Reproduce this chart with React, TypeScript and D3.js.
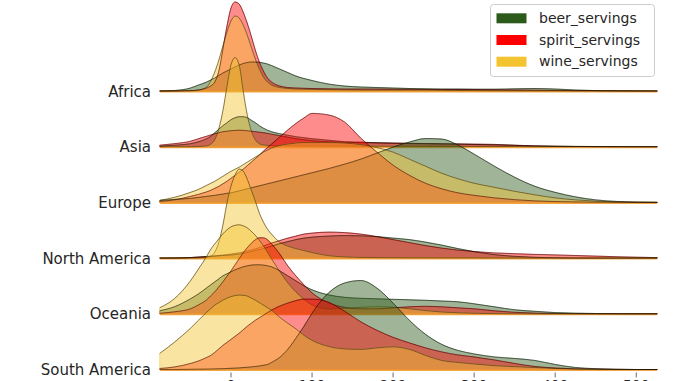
import React from "react";
import * as d3 from "d3";

const GRID = [-88, -70, -50, -40, -30, -25, -20, -15, -10, -5, 0, 5, 10, 15, 20, 25, 30, 35, 40, 45, 50, 60, 70, 80, 90, 100, 120, 140, 160, 180, 200, 220, 240, 260, 280, 300, 325, 350, 375, 400, 425, 450, 475, 500, 526];

const CONTINENTS = ["Africa", "Asia", "Europe", "North America", "Oceania", "South America"];
const SERIES = ["beer_servings", "spirit_servings", "wine_servings"];
const COLORS = ["#2c5a1a", "#ff0000", "#f4c430"];
const TICKS = [0, 100, 200, 300, 400, 500];

// relative density estimates (each row is scaled to its own maximum)
const africaBeer = [0, 0.5, 3, 6, 9, 11, 13, 15.5, 18, 20, 22, 24, 26, 27.5, 28.5, 29, 29, 28.7, 28, 27, 25.5, 22, 18.5, 15, 12.5, 10.5, 7, 5, 4, 3.5, 3, 2.5, 2.2, 2, 2, 1.8, 1.8, 2.2, 2.5, 2, 1, 0.4, 0.2, 0.1, 0];
const africaSpirit = [0, 0, 0.3, 1, 3, 5, 9, 20, 42, 65, 83, 89, 87, 79, 68, 55, 41, 29, 20, 13, 9, 5, 3.5, 3, 2.7, 2.5, 2.2, 2, 2, 2, 1.8, 1.7, 1.6, 1.5, 1.5, 1.4, 1.2, 1, 0.8, 0.6, 0.4, 0.3, 0.2, 0.1, 0];
const africaWine = [0, 0, 0.3, 1, 4, 10, 19, 31, 45, 59, 70, 75, 73, 66, 56, 44, 32, 22, 14, 9, 6, 3.5, 2.5, 2, 1.8, 1.6, 1.4, 1.2, 1, 1, 1, 1, 0.9, 0.7, 0.5, 0.4, 0.3, 0.2, 0.2, 0.2, 0.1, 0.1, 0, 0, 0];

const asiaBeer = [0.5, 1.5, 3, 5, 8, 10.5, 14, 17.5, 21, 24, 27, 29, 30, 30, 29, 26.5, 24, 21, 18.5, 16.5, 15, 13, 11.5, 10, 9, 8, 6.5, 5, 4.5, 4, 3.5, 3.2, 3, 2.8, 2.5, 2.2, 1.8, 1.3, 0.8, 0.5, 0.3, 0.2, 0.1, 0, 0];
const asiaSpirit = [1.5, 3, 5.5, 8, 10.5, 11.8, 13, 14, 15, 15.5, 16, 16.3, 16.5, 16.3, 16, 15.5, 15, 14.5, 14, 13.3, 12.5, 11, 9.5, 8, 7, 6, 5, 4.3, 4, 3.8, 3.6, 3.4, 3.2, 3, 2.8, 2.6, 2.3, 1.5, 0.8, 0.4, 0.2, 0.1, 0, 0, 0];
const asiaWine = [0, 0, 0, 0.2, 0.8, 2.5, 7, 18, 36, 60, 82, 89, 82, 56, 32, 16, 7, 3, 1.8, 1.3, 1.2, 1, 1, 0.9, 0.8, 0.8, 0.7, 0.6, 0.5, 0.5, 0.4, 0.4, 0.3, 0.3, 0.3, 0.2, 0.2, 0.2, 0.1, 0.1, 0.1, 0, 0, 0, 0];

const europeBeer = [2, 3, 4, 5, 6, 6.5, 7, 7.7, 8.3, 9, 9.5, 10.5, 11.5, 12.5, 13.5, 14.5, 15.5, 16.5, 17.5, 18.5, 19.5, 21.5, 23.5, 25.5, 27.5, 29.5, 33.5, 38, 43, 49, 55, 60, 63.5, 63, 57, 48, 36, 25, 16, 10, 5.5, 2.5, 1, 0.3, 0];
const europeSpirit = [1, 2.5, 6, 8, 10.5, 12, 14, 16, 18.5, 21, 24, 27, 30, 33, 36.5, 40, 43.5, 47, 51, 54.5, 58, 65, 72, 78.5, 84, 88.5, 87, 80, 64, 50, 37, 27, 19, 13.5, 9.5, 7, 4.5, 2.7, 1.5, 0.8, 0.4, 0.2, 0.1, 0, 0];
const europeWine = [2, 5, 10, 13, 17, 19, 21, 23.5, 26, 28.5, 31, 33, 35, 37.5, 40, 42.5, 45, 47.5, 50, 52, 54, 56.5, 58, 59, 59.5, 59.5, 59.5, 59, 57.5, 54.5, 50, 43, 36, 29, 23.5, 19, 15, 11, 7.5, 4.5, 2.5, 1.2, 0.5, 0.2, 0];

const northAmericaBeer = [0, 0, 0.5, 1, 1.5, 1.8, 2, 2.3, 2.6, 2.8, 3, 3.5, 4, 4.7, 5.5, 6.5, 7.5, 8.5, 9.5, 10.7, 12, 14.5, 16.5, 18.5, 20, 21, 22, 22.5, 22.3, 21.5, 20, 18.5, 16, 13, 9.5, 6.5, 3.5, 1.8, 0.8, 0.3, 0.1, 0, 0, 0, 0];
const northAmericaSpirit = [0, 0.2, 0.6, 1, 1.5, 1.8, 2.2, 2.6, 3, 3.5, 4, 4.6, 5.2, 6, 7, 8, 9.2, 10.5, 12, 13.5, 15, 17.5, 20, 22, 24, 25, 26, 25.5, 24, 21.5, 18.5, 15.5, 12.5, 10, 8, 6.5, 5.2, 4.4, 3.7, 3.2, 2.6, 2, 1.4, 0.9, 0.5];
const northAmericaWine = [0, 0, 0, 0.2, 0.7, 2, 6, 16, 33, 55, 72, 83, 89, 87, 79, 68, 57, 45, 36, 29, 24, 16, 12, 9.5, 7.5, 5.5, 2.5, 1.2, 0.7, 0.5, 0.4, 0.3, 0.3, 0.2, 0.2, 0.2, 0.1, 0.1, 0, 0, 0, 0, 0, 0, 0];

const oceaniaBeer = [3, 7, 15, 20, 26, 29, 32, 35, 38, 40, 42, 44, 45.5, 47, 48, 48.7, 49, 49, 48.7, 48, 47, 43, 38, 33, 28, 24, 19, 16.5, 15.5, 15, 14.5, 14, 13.5, 12.8, 12, 10, 7, 4, 2.5, 1.2, 0.6, 0.3, 0.1, 0, 0];
const oceaniaSpirit = [0.5, 2, 5, 9, 14, 18, 22, 27, 32, 37.5, 43, 49, 55, 61, 66, 70.5, 74, 76, 76, 74, 70, 60, 48, 38, 29, 21, 11, 6.5, 5, 5, 6, 7, 7.5, 7, 6, 5, 3, 1.5, 0.7, 0.3, 0.1, 0, 0, 0, 0];
const oceaniaWine = [6, 15, 33, 45, 57.5, 64.5, 70, 75, 80, 84, 87, 88.5, 89, 88, 86, 82.5, 78.5, 73.5, 68, 61.5, 55, 42.5, 31, 22, 14.5, 9, 5, 5.5, 6.5, 7, 6.5, 5, 3.2, 1.8, 1, 0.5, 0.2, 0.1, 0, 0, 0, 0, 0, 0, 0];

const southAmericaBeer = [0, 0, 0.2, 0.3, 0.4, 0.5, 0.6, 0.7, 0.8, 1, 1.2, 1.4, 1.6, 1.9, 2.2, 2.6, 3, 3.5, 4.2, 5, 7, 12, 20, 31, 43, 56, 76, 86, 88.5, 81, 66, 49, 35, 25, 19, 15.5, 12.5, 11, 9, 5, 2, 0.8, 0.2, 0, 0];
const southAmericaSpirit = [1, 2.5, 6, 8.5, 12, 14, 17, 20.5, 24, 27, 30, 33, 36, 39.5, 43, 46, 49, 51.5, 54, 56.5, 59, 63, 66, 68.5, 70, 70, 67, 58, 47.5, 39, 32, 26.5, 21.5, 17.5, 14.5, 12.5, 9.5, 6, 3, 1.5, 0.6, 0.3, 0.1, 0, 0];
const southAmericaWine = [16, 27, 41, 49, 57, 60.5, 64, 66.5, 69, 71, 72.5, 73.5, 74, 73.8, 73, 71, 69, 66.5, 64, 61.5, 59, 52, 46, 40.5, 34, 29, 23, 20.5, 20, 21.5, 22.5, 20, 14, 9, 7, 5.5, 3.8, 2.8, 2, 1, 0.5, 0.2, 0.1, 0, 0];

const ROWS: number[][][] = [
  [africaBeer, africaSpirit, africaWine],
  [asiaBeer, asiaSpirit, asiaWine],
  [europeBeer, europeSpirit, europeWine],
  [northAmericaBeer, northAmericaSpirit, northAmericaWine],
  [oceaniaBeer, oceaniaSpirit, oceaniaWine],
  [southAmericaBeer, southAmericaSpirit, southAmericaWine],
];

const FONT = "'DejaVu Sans', sans-serif";

export default function App() {
  const W = 678;
  const H = 381;
  const x = d3.scaleLinear().domain([-87.6, 525.6]).range([160, 657]);
  const yBase = d3.scalePoint<string>().domain(CONTINENTS).range([91, 369.5]);
  const ROW_PEAK = 89;

  return (
    <svg
      width={W}
      height={H}
      style={{ position: "absolute", left: 0, top: 0, display: "block", background: "#fff" }}
      fontFamily={FONT}
    >
      {CONTINENTS.map((c, ri) => {
        const base = yBase(c) as number;
        const series = ROWS[ri];
        const max = d3.max(series.flat()) as number;
        const yh = d3.scaleLinear().domain([0, max]).range([0, ROW_PEAK]);
        const area = d3
          .area<number>()
          .x((_, i) => x(GRID[i]))
          .y0(base)
          .y1((d) => base - yh(d))
          .curve(d3.curveMonotoneX);
        const line = d3
          .line<number>()
          .x((_, i) => x(GRID[i]))
          .y((d) => base - yh(d))
          .curve(d3.curveMonotoneX);
        return (
          <g key={c}>
            {series.map((vals, si) => (
              <path
                key={"f" + si}
                d={area(vals) as string}
                fill={COLORS[si]}
                fillOpacity={0.45}
                stroke={COLORS[si]}
                strokeOpacity={0.45}
                strokeWidth={1}
              />
            ))}
            <line
              x1={x(-87.6)}
              x2={x(525.6)}
              y1={base + 0.6}
              y2={base + 0.6}
              stroke="#f09a30"
              strokeWidth={1.8}
              strokeOpacity={0.9}
            />
            {series.map((vals, si) => (
              <path
                key={"l" + si}
                d={line(vals) as string}
                fill="none"
                stroke="#000"
                strokeOpacity={0.45}
                strokeWidth={1}
              />
            ))}
            <text
              x={151}
              y={base + 0.5}
              textAnchor="end"
              dominantBaseline="central"
              fontSize={15}
              fill="#262626"
            >
              {c}
            </text>
          </g>
        );
      })}

      {/* x axis ticks (labels mostly cut off at the bottom edge, as in the reference) */}
      {TICKS.map((t) => (
        <g key={t}>
          <line x1={x(t)} x2={x(t)} y1={372.5} y2={377.4} stroke="#444" strokeWidth={0.8} />
          <text x={x(t)} y={389.5} textAnchor="middle" fontSize={13.9} fill="#262626">
            {t}
          </text>
        </g>
      ))}

      {/* legend */}
      <g>
        <rect x={490.5} y={4.5} width={164} height={72} rx={3} fill="#fff" fillOpacity={0.8} stroke="#cccccc" strokeWidth={1} />
        {SERIES.map((s, i) => (
          <g key={s}>
            <rect x={496.5} y={13.3 + i * 21.7} width={30} height={10} fill={COLORS[i]} />
            <text x={539} y={22.8 + i * 21.7} fontSize={14} fill="#262626">
              {s}
            </text>
          </g>
        ))}
      </g>
    </svg>
  );
}
